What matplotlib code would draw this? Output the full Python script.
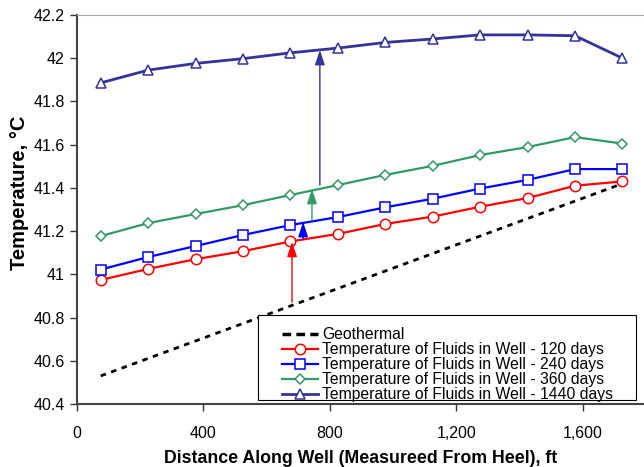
import matplotlib
matplotlib.use('Agg')
import matplotlib.pyplot as plt
from matplotlib.lines import Line2D
from matplotlib.patches import Rectangle
from matplotlib.ticker import FuncFormatter

plt.rcParams['font.family'] = ['Liberation Sans', 'DejaVu Sans']

# distance along well, ft
dist = [75, 225, 375, 525, 675, 825, 975, 1125, 1275, 1425, 1575, 1725]

# fluid temperatures, deg C
t_120 = [40.974, 41.025, 41.070, 41.107, 41.152, 41.187, 41.233, 41.267, 41.313, 41.353, 41.410, 41.430]
t_240 = [41.022, 41.080, 41.131, 41.182, 41.228, 41.265, 41.310, 41.350, 41.397, 41.437, 41.487, 41.487]
t_360 = [41.177, 41.237, 41.279, 41.320, 41.367, 41.413, 41.460, 41.502, 41.552, 41.589, 41.635, 41.605]
t_1440 = [41.886, 41.945, 41.976, 41.998, 42.025, 42.047, 42.073, 42.089, 42.108, 42.108, 42.104, 42.000]

# geothermal gradient end points
geo_x = [75, 1725]
geo_y = [40.53, 41.42]

# arrows showing the warming between curves: x, from, to
arrow_x = [680, 715, 743, 768]
arrow_from = [40.872, 41.163, 41.247, 41.413]
arrow_to = [41.150, 41.242, 41.395, 42.038]
arrow_col = ['#FF0000', '#0000FF', '#339966', '#333399']

fig = plt.figure(figsize=(6.44, 4.67), dpi=100)
ax = fig.add_axes([77/644, 63/467, 567/644, 389/467])

ax.plot(geo_x, geo_y, color='black', lw=2, linestyle=(0, (2, 2)))
l120, = ax.plot(dist, t_120, color='#FF0000', lw=1.6, marker='o', ms=7.5, mfc='white', mew=1.1)
l240, = ax.plot(dist, t_240, color='#0000FF', lw=1.6, marker='s', ms=7, mfc='white', mew=1.1)
l360, = ax.plot(dist, t_360, color='#339966', lw=1.6, marker='D', ms=5.5, mfc='white', mew=1.1)
l1440, = ax.plot(dist, t_1440, color='#333399', lw=2, marker='^', ms=7.5, mfc='white', mew=1.1)

for x, y0, y1, c in zip(arrow_x, arrow_from, arrow_to, arrow_col):
    ax.annotate('', xy=(x, y1), xytext=(x, y0),
                arrowprops=dict(arrowstyle='-|>,head_length=0.9,head_width=0.3',
                                color=c, lw=1, shrinkA=0, shrinkB=0))

ax.set_xlim(0, 1793)
ax.set_ylim(40.4, 42.2)
ax.set_xticks([0, 400, 800, 1200, 1600])
ax.set_yticks([40.4, 40.6, 40.8, 41, 41.2, 41.4, 41.6, 41.8, 42, 42.2])
ax.xaxis.set_major_formatter(FuncFormatter(lambda v, p: f'{v:,.0f}'))
ax.yaxis.set_major_formatter(FuncFormatter(lambda v, p: f'{v:g}'))
ax.tick_params(axis='both', direction='out', length=5, width=1, color='#333333',
               labelsize=11.5)
ax.tick_params(axis='x', pad=11)
ax.tick_params(axis='y', pad=4)

for side in ['left', 'bottom']:
    ax.spines[side].set_color('#444444')
    ax.spines[side].set_linewidth(1.5)
ax.spines['top'].set_color('#aaaaaa')
ax.spines['right'].set_visible(False)

ax.set_xlabel('Distance Along Well (Measureed From Heel), ft', fontsize=12.8,
              fontweight='bold', labelpad=6)
ax.set_ylabel('Temperature, °C', fontsize=14.5, fontweight='bold')
ax.yaxis.set_label_coords((29 - 77) / 567, (404 - 193) / 389)

# legend box is wider than its contents, so draw the frame separately
ax.add_patch(Rectangle((0.319, 0.010), 0.667, 0.2185, transform=ax.transAxes,
                       facecolor='white', edgecolor='black', lw=0.8, zorder=4))
geo_handle = Line2D([], [], color='black', lw=2.5, linestyle=(0, (2.5, 1.5)))
handles = [geo_handle, l120, l240, l360, l1440]
labels = ['Geothermal',
          'Temperature of Fluids in Well - 120 days',
          'Temperature of Fluids in Well - 240 days',
          'Temperature of Fluids in Well - 360 days',
          'Temperature of Fluids in Well - 1440 days']
leg = ax.legend(handles, labels, loc='upper left',
                bbox_to_anchor=((282 - 77) / 567, (404 - 327) / 389),
                fontsize=11.3, frameon=False, borderpad=0, labelspacing=0.0,
                handlelength=2.3, handletextpad=0.25, borderaxespad=0)
leg.set_zorder(5)

fig.savefig('out.png', dpi=100)
